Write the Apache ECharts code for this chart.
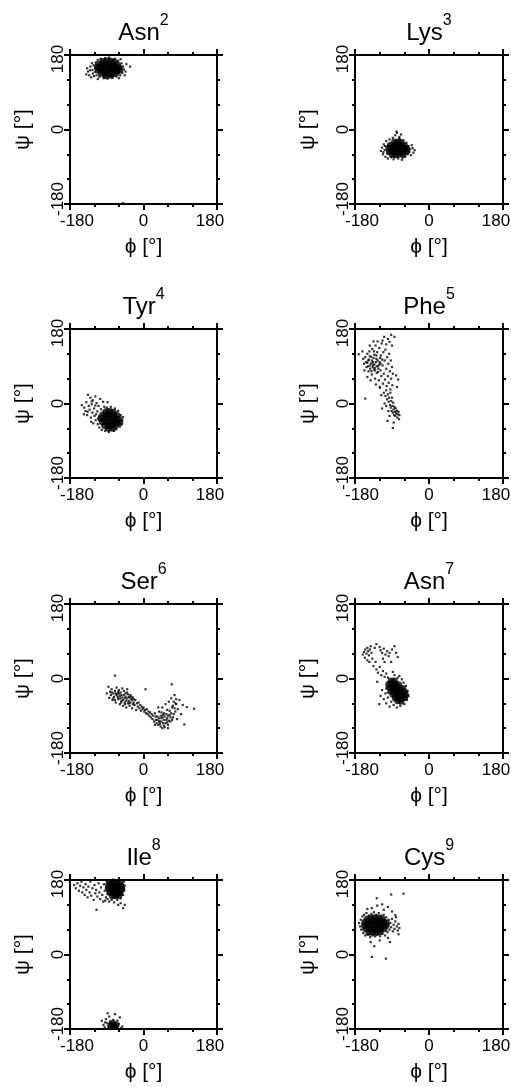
<!DOCTYPE html>
<html lang="en">
<head>
<meta charset="UTF-8">
<title>Ramachandran plots</title>
<script src="https://cdn.jsdelivr.net/npm/echarts@6.0.0/dist/echarts.min.js"></script>
<style>
  body { margin: 0; padding: 0; background: #fff; }
  #chart { width: 511px; height: 1087px; }
</style>
</head>
<body>
<div id="chart"></div>
<script>
// residues and their sequence numbers (drawn as superscript)
var residues = ['Asn', 'Lys', 'Tyr', 'Phe', 'Ser', 'Asn', 'Ile', 'Cys'];
var seqNums = ['2', '3', '4', '5', '6', '7', '8', '9'];
var angleTicks = [-180, 0, 180];

// [phi, psi] in degrees
// *Dense = the solid black cores, *Sparse = the single dots around them
var asn2Dense = [
  [-100, 164], [-90, 166], [-80, 165], [-72, 163],
  [-110, 157], [-101, 158], [-92, 158], [-83, 157], [-74, 157], [-64, 156],
  [-113, 150], [-104, 150], [-95, 151], [-86, 150], [-77, 150], [-68, 149], [-60, 150],
  [-110, 143], [-101, 143], [-92, 142], [-83, 143], [-74, 142], [-65, 142], [-58, 143],
  [-104, 136], [-95, 135], [-86, 136], [-77, 135], [-68, 136], [-92, 130], [-80, 131]
];
var asn2Sparse = [
  [-138, 148], [-136, 140], [-133, 131], [-130, 152], [-128, 126], [-125, 144], [-124, 135], [-121, 129],
  [-122, 155], [-119, 139], [-117, 162], [-115, 131], [-112, 168], [-108, 127], [-105, 171], [-98, 124],
  [-94, 172], [-88, 123], [-84, 174], [-76, 125], [-70, 171], [-66, 128], [-62, 166], [-57, 131],
  [-54, 160], [-52, 137], [-50, 152], [-48, 145], [-46, 131], [-42, 158], [-33, 152], [-118, 148],
  [-126, 160], [-140, 133], [-56, 170], [-60, 124], [-50, -178], [-131, 143], [-112, 122], [-44, 140]
];

var lys3Dense = [
  [-84, -30], [-76, -31], [-68, -32],
  [-94, -38], [-85, -38], [-77, -39], [-69, -38], [-60, -39],
  [-98, -45], [-89, -46], [-80, -46], [-72, -46], [-63, -46], [-55, -45],
  [-96, -53], [-87, -53], [-78, -54], [-70, -53], [-61, -53], [-54, -52],
  [-90, -60], [-81, -61], [-72, -60], [-63, -59]
];
var lys3Sparse = [
  [-117, -52], [-114, -44], [-112, -60], [-110, -36], [-108, -50], [-106, -66], [-104, -28], [-102, -58],
  [-100, -70], [-96, -24], [-92, -67], [-88, -20], [-86, -72], [-82, -14], [-78, -8], [-75, -70],
  [-72, -18], [-70, -24], [-68, -12], [-66, -73], [-62, -26], [-58, -66], [-55, -32], [-52, -60],
  [-50, -40], [-48, -54], [-46, -47], [-44, -62], [-42, -38], [-38, -56], [-35, -50], [-40, -45],
  [-107, -40], [-111, -55], [-84, -66], [-73, -22], [-79, -5], [-64, -68]
];

var tyr4Dense = [
  [-92, -20], [-83, -19], [-74, -21],
  [-100, -28], [-91, -28], [-82, -28], [-73, -28], [-65, -29],
  [-104, -36], [-95, -36], [-86, -36], [-77, -37], [-68, -37], [-60, -38],
  [-101, -44], [-92, -45], [-83, -45], [-74, -45], [-65, -45], [-58, -46],
  [-95, -53], [-86, -53], [-77, -53], [-68, -52], [-86, -60], [-76, -60]
];
var tyr4Sparse = [
  [-151, -4], [-145, -10], [-142, -18], [-140, 3], [-138, -28], [-136, 21], [-134, -6], [-132, -15],
  [-130, 14], [-129, -34], [-127, -2], [-125, -22], [-124, 8], [-121, -12], [-120, -30], [-118, 17],
  [-117, -40], [-115, 1], [-113, -19], [-112, -50], [-110, -6], [-108, -58], [-106, 11], [-104, -14],
  [-102, -64], [-99, 4], [-96, -8], [-94, -66], [-90, -10], [-88, 3], [-85, -69], [-80, -8],
  [-72, -66], [-70, -12], [-66, -62], [-62, -18], [-58, -56], [-56, -28], [-54, -50], [-52, -40],
  [-50, -33], [-128, -44], [-137, -20], [-146, -26], [-123, -48], [-111, -36], [-116, -26], [-108, -30],
  [-118, -5], [-127, 5]
];

var phe5Dense = [];
var phe5Sparse = [
  [-109, 161], [-84, 161], [-96, 149], [-100, 156], [-90, 140], [-104, 143], [-113, 152], [-92, 166],
  [-171, 119], [-160, 108], [-158, 96], [-155, 112], [-152, 88], [-150, 120], [-148, 104], [-147, 78],
  [-145, 126], [-143, 92], [-141, 113], [-139, 70], [-138, 132], [-136, 100], [-134, 82], [-133, 118],
  [-131, 60], [-130, 140], [-128, 108], [-127, 74], [-126, 124], [-124, 90], [-122, 56], [-121, 134],
  [-120, 100], [-118, 80], [-117, 116], [-116, 66], [-115, 145], [-113, 92], [-112, 48], [-111, 124],
  [-110, 72], [-108, 104], [-107, 58], [-106, 130], [-104, 84], [-103, 42], [-102, 112], [-100, 66],
  [-99, 96], [-98, 50], [-97, 120], [-95, 78], [-94, 34], [-93, 104], [-92, 60], [-90, 88],
  [-89, 44], [-88, 72], [-75, 58], [-80, 68], [-78, 40],
  [-150, 98], [-146, 106], [-143, 84], [-141, 97], [-139, 104], [-137, 88], [-135, 110], [-133, 94],
  [-131, 80], [-129, 100], [-127, 90], [-125, 104], [-123, 84], [-121, 94], [-119, 110], [-148, 90],
  [-144, 114], [-140, 78], [-136, 94], [-132, 86], [-128, 116], [-124, 76], [-153, 100], [-134, 126],
  [-118, 96],
  [-110, 26], [-106, 18], [-104, 32], [-102, 10], [-100, 22], [-98, 4], [-97, 14], [-95, -4],
  [-94, 26], [-93, -10], [-92, 6], [-91, -18], [-90, 14], [-89, -6], [-88, -22], [-87, 2],
  [-86, -14], [-85, -28], [-84, -8], [-83, -20], [-82, -30], [-81, -12], [-80, -24], [-78, -18],
  [-77, -34], [-76, -26], [-74, -20], [-73, -38], [-72, -28], [-88, -59], [-155, 12], [-120, 40],
  [-116, 20], [-108, 0], [-104, -6], [-96, -30], [-99, -18], [-114, -12], [-101, -42], [-86, -46],
  [-162, 126], [-157, 80], [-150, 64], [-144, 140], [-142, 56], [-135, 150], [-129, 46], [-125, 150],
  [-119, 38], [-114, 106]
];

var ser6Dense = [];
var ser6Sparse = [
  [-86, -20], [-84, -47], [-82, -32], [-80, -40], [-78, -26], [-76, -52], [-74, -36], [-72, -44],
  [-70, -30], [-70, 7], [-68, -58], [-66, -22], [-64, -38], [-62, -50], [-60, -28], [-58, -62],
  [-56, -34], [-54, -54], [-52, -24], [-50, -66], [-48, -30], [-46, -58], [-44, -36], [-42, -70],
  [-40, -26], [-38, -60], [-36, -44], [-34, -66], [-32, -40], [-30, -50], [-28, -72], [-26, -46],
  [-24, -58], [-22, -64], [-20, -52], [-18, -76], [-16, -60], [-14, -68], [-12, -58], [-10, -72],
  [-8, -64], [-6, -78], [-4, -68], [-2, -74], [0, -70], [2, -80], [4, -76], [5, -26],
  [6, -84], [8, -74], [10, -86], [12, -80], [14, -90], [16, -82], [18, -94], [20, -86],
  [22, -98], [24, -90], [26, -104], [28, -84], [30, -100], [32, -108], [34, -92], [36, -112],
  [38, -80], [40, -104], [42, -116], [44, -96], [46, -70], [48, -108], [50, -84], [52, -118],
  [54, -62], [56, -100], [58, -76], [60, -112], [62, -56], [64, -88], [66, -104], [68, -48],
  [69, -14], [70, -70], [72, -94], [74, -56], [76, -40], [78, -80], [80, -62], [84, -74],
  [88, -52], [92, -86], [100, -111], [106, -69], [124, -73], [96, -64], [82, -98], [60, -120],
  [44, -82], [36, -70], [28, -112], [-90, -36],
  [-66, -40], [-63, -45], [-60, -36], [-57, -48], [-54, -40], [-52, -46], [-50, -52], [-48, -40],
  [-46, -48], [-44, -44], [-42, -54], [-40, -48], [-38, -38], [-36, -54], [-34, -46], [-32, -58],
  [-30, -44], [-28, -52], [-26, -62], [-24, -50], [-62, -32], [-58, -42], [-55, -58], [-45, -62],
  [-41, -34], [-35, -60], [-74, -48], [-78, -34], [-70, -52], [-68, -36],
  [30, -92], [34, -100], [38, -96], [40, -110], [42, -90], [44, -104], [46, -94], [48, -88],
  [50, -100], [52, -92], [54, -108], [56, -86], [58, -96], [60, -90], [62, -102], [64, -78],
  [66, -94], [68, -84], [70, -100], [72, -66], [74, -86], [76, -72], [78, -60], [80, -50],
  [50, -114], [46, -120], [38, -104], [58, -106]
];

var asn7Dense = [
  [-92, -6], [-84, -6],
  [-98, -14], [-90, -14], [-82, -14], [-74, -15],
  [-96, -22], [-88, -22], [-80, -22], [-72, -23], [-64, -24],
  [-92, -30], [-84, -30], [-76, -31], [-68, -31], [-60, -32],
  [-88, -38], [-80, -39], [-72, -39], [-64, -40], [-57, -40],
  [-82, -47], [-74, -47], [-66, -48], [-59, -46], [-76, -54], [-68, -55]
];
var asn7Sparse = [
  [-161, 58], [-158, 64], [-155, 70], [-152, 60], [-150, 74], [-148, 66], [-146, 56], [-144, 70],
  [-142, 78], [-140, 62], [-156, 50], [-150, 44], [-145, 40], [-138, 48], [-135, 30], [-130, 40],
  [-128, 22], [-124, 14], [-120, 28], [-116, 8], [-112, 18], [-108, 4], [-104, 12], [-100, 2],
  [-118, 68], [-114, 62], [-110, 72], [-106, 58], [-102, 66], [-98, 54], [-112, 48], [-108, 40],
  [-96, 62], [-92, 40], [-88, 16], [-84, 8], [-72, 6], [-126, -8], [-121, -62], [-118, -42],
  [-114, -28], [-110, -50], [-106, -36], [-104, -60], [-100, -46], [-96, -68], [-92, -56], [-86, -64],
  [-78, -70], [-70, -66], [-60, -62], [-54, -52], [-52, -30], [-50, -42], [-56, -18], [-62, -10],
  [-66, -2], [-76, 2], [-104, -24], [-100, -34], [-128, 83], [-120, 76], [-84, 78], [-80, 62],
  [-76, 52], [-90, 70], [-132, 74]
];

var ile8Dense = [
  [-82, 174], [-74, 175], [-66, 174], [-58, 173],
  [-86, 166], [-78, 167], [-70, 167], [-62, 166], [-54, 165],
  [-85, 158], [-77, 159], [-69, 158], [-61, 158], [-53, 157],
  [-82, 150], [-74, 150], [-66, 150], [-58, 149], [-76, 142], [-68, 142], [-60, 143],
  [-80, -172], [-72, -174], [-76, -166], [-68, -170]
];
var ile8Sparse = [
  [-170, 168], [-166, 160], [-162, 172], [-158, 154], [-155, 166], [-152, 176], [-150, 150], [-147, 162],
  [-144, 144], [-142, 170], [-140, 156], [-137, 138], [-135, 164], [-132, 150], [-130, 176], [-128, 142],
  [-125, 160], [-122, 132], [-120, 168], [-118, 148], [-116, 156], [-113, 140], [-110, 172], [-108, 150],
  [-106, 134], [-104, 162], [-101, 144], [-99, 128], [-97, 170], [-95, 154], [-115, 108], [-92, 138],
  [-90, 176], [-94, 130], [-88, 134], [-84, 128], [-78, 132], [-72, 126], [-64, 132], [-56, 136],
  [-50, 144], [-48, 156], [-46, 166], [-46, 120], [-50, 112], [-56, 124], [-62, 120], [-48, 176],
  [-52, 170], [-88, 146], [-92, 160],
  [-102, -160], [-98, -170], [-95, -176], [-92, -156], [-89, -166], [-86, -174], [-84, -150], [-82, -162],
  [-78, -178], [-74, -158], [-70, -144], [-66, -176], [-64, -160], [-60, -168], [-58, -152], [-55, -178],
  [-52, -174], [-88, -142], [-62, -174], [-94, -164]
];

var cys9Dense = [
  [-150, 86], [-141, 88], [-132, 89], [-123, 88], [-114, 86],
  [-156, 78], [-147, 79], [-138, 80], [-129, 80], [-120, 80], [-111, 79], [-104, 77],
  [-157, 70], [-148, 71], [-139, 71], [-130, 71], [-121, 71], [-112, 71], [-104, 70],
  [-154, 62], [-145, 62], [-136, 62], [-127, 63], [-118, 62], [-109, 62],
  [-146, 54], [-137, 54], [-128, 54], [-119, 55]
];
var cys9Sparse = [
  [-170, 76], [-168, 68], [-166, 84], [-165, 60], [-162, 92], [-160, 52], [-158, 96], [-155, 46],
  [-152, 100], [-149, 48], [-146, 94], [-143, 42], [-140, 98], [-137, 46], [-134, 102], [-131, 44],
  [-128, 96], [-125, 48], [-122, 100], [-119, 44], [-116, 94], [-113, 50], [-110, 96], [-107, 46],
  [-104, 90], [-101, 54], [-98, 84], [-96, 60], [-94, 76], [-92, 66], [-90, 86], [-88, 56],
  [-86, 72], [-84, 62], [-82, 80], [-80, 90], [-78, 68], [-76, 58], [-74, 74], [-72, 64],
  [-62, 147], [-92, 145], [-127, 136], [-114, 121], [-139, 112], [-133, 20], [-139, -6], [-105, -10],
  [-95, 30], [-74, 49], [-82, 95], [-100, 40], [-120, 34], [-142, 30], [-110, 108], [-150, 110],
  [-90, 104], [-126, 118], [-100, 115]
];

var denseSets = [asn2Dense, lys3Dense, tyr4Dense, phe5Dense, ser6Dense, asn7Dense, ile8Dense, cys9Dense];
var sparseSets = [asn2Sparse, lys3Sparse, tyr4Sparse, phe5Sparse, ser6Sparse, asn7Sparse, ile8Sparse, cys9Sparse];

// layout of the 2 x 4 panels
var gridLefts = [70, 355];
var gridWidths = [147, 148];
var gridTops = [55, 329, 604, 880];
var gridHeight = 149;
var font = '"Liberation Sans", Arial, sans-serif';

function tickRich(isX) {
    var base = { fontFamily: font, fontSize: 17, color: '#000' };
    // end labels sit a bit inside the ticks, like in the original
    return {
        lo: Object.assign({ padding: isX ? [0, 0, 0, 14] : [0, 0, 0, 10] }, base),
        hi: Object.assign({ padding: isX ? [0, 14, 0, 0] : [0, 8, 0, 0] }, base),
        mid: Object.assign({}, base)
    };
}

function angleAxis(i, pos) {
    var isX = pos === 'bottom' || pos === 'top';
    var labelled = pos === 'bottom' || pos === 'left';
    var ax = {
        type: 'value',
        gridIndex: i,
        position: pos,
        min: angleTicks[0],
        max: angleTicks[2],
        interval: angleTicks[1] - angleTicks[0],
        axisLine: { show: true, onZero: false, lineStyle: { color: '#000', width: 2 } },
        axisTick: { show: true, inside: false, length: 6, lineStyle: { color: '#000', width: 2 } },
        minorTick: { show: true, splitNumber: 3, length: 3, lineStyle: { color: '#000', width: 2 } },
        splitLine: { show: false },
        minorSplitLine: { show: false },
        axisLabel: { show: false }
    };
    if (labelled) {
        ax.axisLabel = {
            show: true,
            rotate: isX ? 0 : 90,
            margin: isX ? 9 : 3,
            fontFamily: font,
            fontSize: 17,
            color: '#000',
            formatter: function (v) {
                if (v === angleTicks[0]) return '{lo|' + v + '}';
                if (v === angleTicks[2]) return '{hi|' + v + '}';
                return '{mid|' + v + '}';
            },
            rich: tickRich(isX)
        };
        ax.name = isX ? '\u03d5 [\u00b0]' : '\u03c8 [\u00b0]';
        ax.nameLocation = 'middle';
        ax.nameGap = isX ? 33 : 36;
        ax.nameTextStyle = { fontFamily: font, fontSize: 21, color: '#000' };
    }
    if (pos === 'top') {
        // panel title: residue with its sequence number as superscript
        ax.name = '{n|' + residues[i] + '}{s|' + seqNums[i] + '}';
        ax.nameLocation = 'middle';
        ax.nameGap = 2;
        ax.nameTextStyle = {
            rich: {
                n: { fontFamily: font, fontSize: 24, lineHeight: 40, color: '#000' },
                s: { fontFamily: font, fontSize: 16, lineHeight: 16, verticalAlign: 'top', color: '#000' }
            }
        };
    }
    return ax;
}

var grids = [], xAxes = [], yAxes = [], series = [];
for (var i = 0; i < 8; i++) {
    var col = i % 2, row = Math.floor(i / 2);
    grids.push({
        left: gridLefts[col], top: gridTops[row],
        width: gridWidths[col], height: gridHeight,
        containLabel: false, outerBoundsMode: 'none'
    });
    xAxes.push(angleAxis(i, 'bottom'), angleAxis(i, 'top'));
    yAxes.push(angleAxis(i, 'left'), angleAxis(i, 'right'));
    series.push({
        type: 'scatter', xAxisIndex: 2 * i, yAxisIndex: 2 * i,
        data: sparseSets[i], symbol: 'rect', symbolSize: 2.2,
        itemStyle: { color: '#000' }, silent: true
    });
    series.push({
        type: 'scatter', xAxisIndex: 2 * i, yAxisIndex: 2 * i,
        data: denseSets[i], symbol: 'circle', symbolSize: 7,
        itemStyle: { color: '#000' }, silent: true
    });
}

var myChart = echarts.init(document.getElementById('chart'));
myChart.setOption({
    animation: false,
    backgroundColor: '#fff',
    grid: grids,
    xAxis: xAxes,
    yAxis: yAxes,
    series: series
});
</script>
</body>
</html>
